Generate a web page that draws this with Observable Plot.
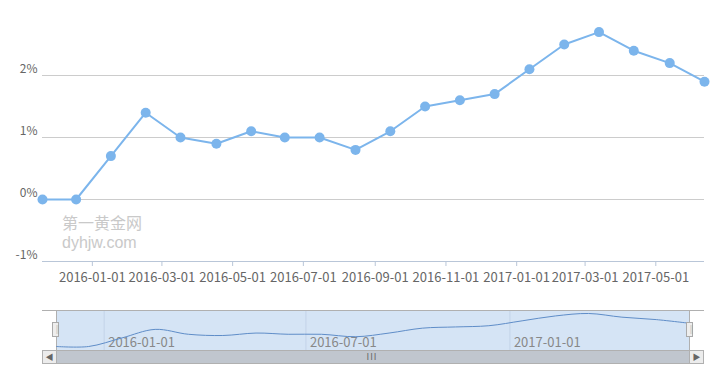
<!DOCTYPE html>
<html>
<head>
<meta charset="utf-8">
<script src="https://cdn.jsdelivr.net/npm/d3@7"></script>
<script src="https://cdn.jsdelivr.net/npm/@observablehq/plot@0.6"></script>
<style>
  html, body { margin: 0; padding: 0; background: #fff; }
  #wrap { position: relative; width: 721px; height: 371px; overflow: hidden; font-family: "Noto Sans CJK SC", "Noto Sans", sans-serif; }
  #main, #mini { position: absolute; left: 0; }
  #main { top: 0; }
  #mini { top: 300px; }
  .wm { position: absolute; left: 62px; color: #c9c9c9; font-size: 16px; line-height: 18px; white-space: nowrap; font-family: "Liberation Sans", "Noto Sans CJK SC", sans-serif; }
  .abs { position: absolute; box-sizing: border-box; }
</style>
</head>
<body>
<div id="wrap">
  <div id="main"></div>
  <div id="mini"></div>
  <div class="wm" style="top:215px;">第一黄金网</div>
  <div class="wm" style="top:234px;">dyhjw.com</div>
  <!-- slider decorations -->
  <div class="abs" style="left:42px;top:310px;width:662px;height:1px;background:#b0b0b0;"></div>
  <div class="abs" style="left:42px;top:350px;width:662px;height:14px;background:#c0c6ce;border:1px solid #b0b0b0;"></div>
  <div class="abs" style="left:42px;top:350px;width:15px;height:14px;background:#ececec;border:1px solid #b0b0b0;font-size:8px;line-height:12px;text-align:center;color:#666;">&#9664;</div>
  <div class="abs" style="left:689px;top:350px;width:15px;height:14px;background:#ececec;border:1px solid #b0b0b0;font-size:8px;line-height:12px;text-align:center;color:#666;">&#9654;</div>
  <div class="abs" style="left:366px;top:352px;width:12px;height:10px;font-size:9px;line-height:10px;color:#666;text-align:center;letter-spacing:1px;">III</div>
  <div class="abs" style="left:52px;top:322px;width:7px;height:15px;background:#eee;border:1px solid #aaa;font-size:9px;line-height:13px;color:#999;text-align:center;">‖</div>
  <div class="abs" style="left:686px;top:322px;width:7px;height:15px;background:#eee;border:1px solid #aaa;font-size:9px;line-height:13px;color:#999;text-align:center;">‖</div>
</div>
<script>
const dates = ["2015-11-19","2015-12-18","2016-01-17","2016-02-16","2016-03-17","2016-04-17","2016-05-17","2016-06-15","2016-07-15","2016-08-15","2016-09-14","2016-10-14","2016-11-13","2016-12-13","2017-01-12","2017-02-11","2017-03-13","2017-04-12","2017-05-13","2017-06-12"];
const values = [0, 0, 0.7, 1.4, 1.0, 0.9, 1.1, 1.0, 1.0, 0.8, 1.1, 1.5, 1.6, 1.7, 2.1, 2.5, 2.7, 2.4, 2.2, 1.9];
const xTicks = ["2016-01-01","2016-03-01","2016-05-01","2016-07-01","2016-09-01","2016-11-01","2017-01-01","2017-03-01","2017-05-01"];
const yTicks = [-1, 0, 1, 2];
const miniTicks = ["2016-01-01","2016-07-01","2017-01-01"];

const parse = d3.utcParse("%Y-%m-%d");
const fmt = d3.utcFormat("%Y-%m-%d");
const data = dates.map((d, i) => ({date: parse(d), value: values[i]}));
const xt = xTicks.map(parse);
const mt = miniTicks.map(parse);
const xDomain = d3.extent(data, d => d.date);

const lineColor = "#7cb5ec";
const axisColor = "#b9c6d8";
const font = '"Noto Sans CJK SC", "Noto Sans", sans-serif';

const main = Plot.plot({
  width: 721,
  height: 300,
  marginTop: 13,
  marginBottom: 39,
  marginLeft: 42,
  marginRight: 17,
  style: {fontFamily: font, fontSize: "12px", color: "#666", background: "transparent"},
  x: {type: "utc", domain: xDomain},
  y: {domain: [-1, 3]},
  marks: [
    Plot.ruleY(yTicks.filter(t => t > -1), {stroke: "#cccccc", strokeWidth: 1}),
    Plot.ruleY([-1], {stroke: axisColor, strokeWidth: 1}),
    Plot.axisX({ticks: xt, tickFormat: fmt, tickSize: 5, tickPadding: 6, stroke: axisColor, fill: "#666", label: null, fontSize: 13}),
    Plot.axisY({ticks: yTicks, tickFormat: d => d + "%", tickSize: 0, tickPadding: 5, dy: -6, fill: "#666", label: null, fontSize: 12}),
    Plot.line(data, {x: "date", y: "value", stroke: lineColor, strokeWidth: 2}),
    Plot.dot(data, {x: "date", y: "value", r: 5, fill: lineColor, stroke: "none"})
  ]
});
document.getElementById("main").appendChild(main);

const mini = Plot.plot({
  width: 721,
  height: 71,
  marginTop: 10,
  marginBottom: 21,
  marginLeft: 56,
  marginRight: 32,
  style: {fontFamily: font, fontSize: "12px", background: "transparent"},
  x: {type: "utc", domain: xDomain, axis: null},
  y: {domain: [-0.327, 2.945], axis: null},
  marks: [
    Plot.frame({fill: "#d5e4f5", stroke: "#b0b0b0"}),
    Plot.ruleX(mt, {stroke: "#c3d3e8", strokeWidth: 1}),
    Plot.text(mt, {x: d => d, text: d => fmt(d), frameAnchor: "bottom", textAnchor: "start", lineAnchor: "bottom", dx: 4, dy: -4, fill: "#888", fontSize: 13}),
    Plot.line(data, {x: "date", y: "value", stroke: "#5f8dc8", strokeWidth: 1, curve: "catmull-rom"})
  ]
});
document.getElementById("mini").appendChild(mini);
</script>
</body>
</html>
